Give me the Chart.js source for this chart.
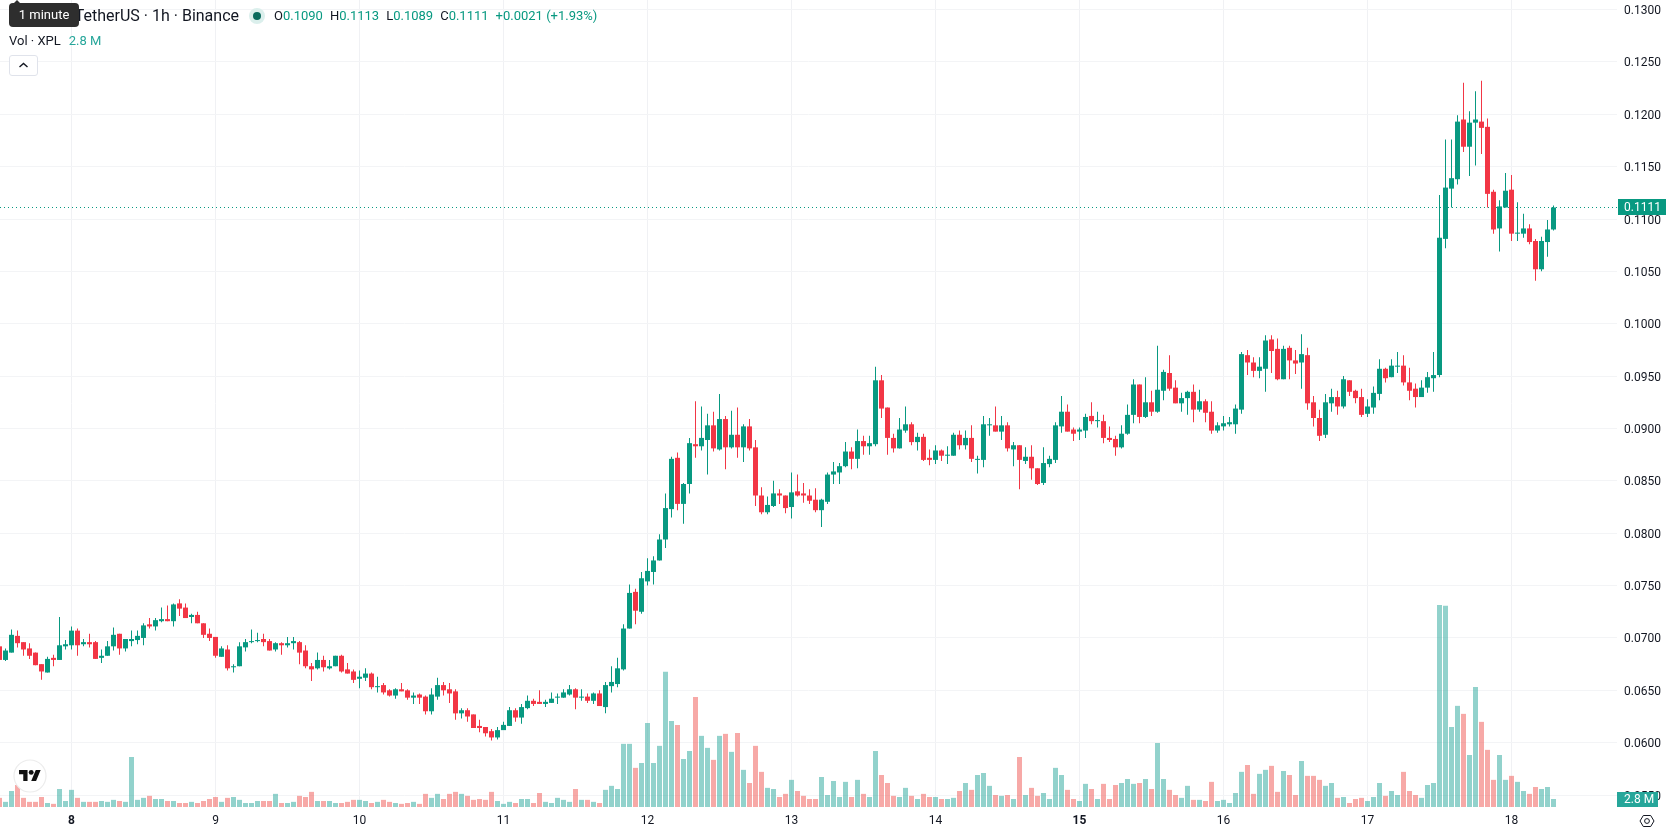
<!DOCTYPE html>
<html>
<head>
<meta charset="utf-8">
<title>TetherUS 1h</title>
<script src="https://cdn.jsdelivr.net/npm/chart.js@4/dist/chart.umd.min.js"></script>
<style>
    html, body { margin: 0; padding: 0; background: #fff; overflow: hidden; }
    body { width: 1678px; height: 835px; position: relative; font-family: Roboto, sans-serif; color: #131722; }
    canvas { position: absolute; left: 0; top: 0; }
    .abs { position: absolute; white-space: nowrap; }
    #title { right: calc(1678px - 239px); top: 6px; font-size: 16px; line-height: 20px; }
    #tip { left: 9px; top: 3px; width: 70px; height: 24px; line-height: 24px; text-align: center; border-radius: 4px;
        background: #2e2e2e; color: #fff; font-size: 13px; }
    #tipArrow { left: 13px; top: 0; width: 0; height: 0; border-left: 4px solid transparent; border-right: 4px solid transparent;
        border-bottom: 4px solid #2e2e2e; }
    #halo { left: 249px; top: 8px; width: 16px; height: 16px; border-radius: 50%; background: #dbefec; }
    #dot { left: 253px; top: 12px; width: 8px; height: 8px; border-radius: 50%; background: #0a6b5d; }
    #ohlc { left: 274px; top: 7px; font-size: 13px; line-height: 18px; color: #089981; }
    #ohlc b { font-weight: 400; color: #131722; margin-left: 7px; }
    #ohlc b:first-child { margin-left: 0; }
    #ohlc i { font-style: normal; margin-left: 7px; }
    #vol { left: 9px; top: 32px; font-size: 13px; line-height: 18px; }
    #vol span { color: #26a69a; margin-left: 8px; }
    #toggle { left: 9px; top: 55px; width: 27px; height: 19px; border: 1px solid #e0e3eb; border-radius: 3px; background: #fff; }
    #logo { left: 13px; top: 759px; }
    #gear { left: 1639px; top: 814px; }
</style>
</head>
<body>
<canvas id="chart" width="1678" height="835"></canvas>
<div class="abs" id="title">TetherUS · 1h · Binance</div>
<div class="abs" id="tipArrow"></div>
<div class="abs" id="tip">1 minute</div>
<div class="abs" id="halo"></div>
<div class="abs" id="dot"></div>
<div class="abs" id="ohlc"><b>O</b>0.1090<b>H</b>0.1113<b>L</b>0.1089<b>C</b>0.1111<i>+0.0021 (+1.93%)</i></div>
<div class="abs" id="vol">Vol · XPL<span>2.8 M</span></div>
<div class="abs" id="toggle">
    <svg width="27" height="19" viewBox="0 0 27 19"><path d="M9.5 11 L13.5 7.5 L17.5 11" fill="none" stroke="#131722" stroke-width="1.4"/></svg>
</div>
<svg class="abs" id="logo" width="34" height="34" viewBox="0 0 34 34">
    <circle cx="17" cy="17" r="16" fill="#fff" stroke="#ececec" stroke-width="1.2"/>
    <g transform="translate(6 8.5) scale(0.61)" fill="#111">
        <path d="M14 22H7V11H0V4h14v18zM28 22h-8l7.5-18h8L28 22z"/>
        <circle cx="20" cy="8" r="4"/>
    </g>
</svg>
<svg class="abs" id="gear" width="16" height="14" viewBox="0 0 16 14">
    <path d="M4.3 1.5 H11.7 L15 7 L11.7 12.5 H4.3 L1 7 Z" fill="none" stroke="#131722" stroke-width="1"/>
    <circle cx="8" cy="7" r="2.4" fill="none" stroke="#131722" stroke-width="1"/>
</svg>
<script>
// hourly candles, the first one sits 12 hours before the "8" day mark
var firstHour = -12;

var opens = [
    0.0692,0.0679,0.0686,0.0702,0.0696,0.0690,0.0686,0.0675,0.0667,0.0681,
    0.0679,0.0692,0.0693,0.0707,0.0694,0.0696,0.0696,0.0681,0.0683,0.0692,
    0.0704,0.0690,0.0697,0.0698,0.0700,0.0713,0.0711,0.0716,0.0718,0.0716,
    0.0733,0.0729,0.0720,0.0722,0.0714,0.0704,0.0701,0.0682,0.0689,0.0672,
    0.0673,0.0691,0.0696,0.0697,0.0699,0.0697,0.0689,0.0695,0.0693,0.0695,
    0.0696,0.0688,0.0673,0.0671,0.0679,0.0671,0.0673,0.0683,0.0670,0.0668,
    0.0661,0.0662,0.0666,0.0653,0.0655,0.0650,0.0645,0.0651,0.0650,0.0643,
    0.0646,0.0644,0.0630,0.0644,0.0655,0.0651,0.0649,0.0628,0.0631,0.0627,
    0.0616,0.0615,0.0611,0.0605,0.0612,0.0616,0.0631,0.0624,0.0633,0.0640,
    0.0639,0.0637,0.0638,0.0643,0.0643,0.0646,0.0651,0.0643,0.0644,0.0640,
    0.0647,0.0634,0.0654,0.0656,0.0670,0.0709,0.0744,0.0725,0.0754,0.0763,
    0.0774,0.0794,0.0823,0.0872,0.0828,0.0847,0.0885,0.0883,0.0889,0.0903,
    0.0880,0.0909,0.0882,0.0894,0.0882,0.0902,0.0882,0.0836,0.0820,0.0826,
    0.0838,0.0836,0.0825,0.0840,0.0838,0.0836,0.0832,0.0822,0.0830,0.0856,
    0.0858,0.0864,0.0878,0.0871,0.0888,0.0883,0.0885,0.0946,0.0920,0.0891,
    0.0881,0.0898,0.0904,0.0887,0.0892,0.0872,0.0870,0.0879,0.0874,0.0874,
    0.0894,0.0884,0.0891,0.0870,0.0870,0.0903,0.0903,0.0897,0.0903,0.0880,
    0.0884,0.0869,0.0873,0.0862,0.0848,0.0866,0.0870,0.0902,0.0916,0.0899,
    0.0897,0.0898,0.0912,0.0907,0.0907,0.0891,0.0890,0.0882,0.0895,0.0913,
    0.0942,0.0911,0.0925,0.0916,0.0936,0.0953,0.0939,0.0924,0.0929,0.0935,
    0.0918,0.0926,0.0916,0.0898,0.0902,0.0904,0.0904,0.0918,0.0970,0.0963,
    0.0955,0.0957,0.0985,0.0976,0.0947,0.0977,0.0965,0.0963,0.0970,0.0925,
    0.0910,0.0894,0.0924,0.0930,0.0921,0.0946,0.0936,0.0930,0.0914,0.0920,
    0.0933,0.0957,0.0949,0.0959,0.0960,0.0944,0.0938,0.0930,0.0939,0.0948,
    0.0951,0.1081,0.1129,0.1138,0.1195,0.1169,0.1192,0.1193,0.1188,0.1126,
    0.1091,0.1111,0.1128,0.1086,0.1086,0.1091,0.1079,0.1052,0.1078,0.1090
];

var highs = [
    0.0694,0.0690,0.0708,0.0707,0.0696,0.0695,0.0686,0.0675,0.0682,0.0684,
    0.0720,0.0698,0.0711,0.0709,0.0699,0.0704,0.0697,0.0689,0.0697,0.0710,
    0.0704,0.0699,0.0707,0.0707,0.0714,0.0719,0.0719,0.0729,0.0731,0.0733,
    0.0737,0.0733,0.0723,0.0725,0.0714,0.0709,0.0701,0.0692,0.0693,0.0675,
    0.0696,0.0699,0.0708,0.0705,0.0704,0.0699,0.0696,0.0696,0.0701,0.0701,
    0.0697,0.0693,0.0676,0.0686,0.0683,0.0679,0.0683,0.0684,0.0676,0.0670,
    0.0669,0.0671,0.0667,0.0663,0.0657,0.0651,0.0652,0.0657,0.0651,0.0648,
    0.0647,0.0645,0.0652,0.0662,0.0658,0.0657,0.0651,0.0633,0.0633,0.0627,
    0.0622,0.0615,0.0613,0.0615,0.0620,0.0634,0.0633,0.0637,0.0645,0.0642,
    0.0650,0.0641,0.0648,0.0647,0.0651,0.0655,0.0652,0.0651,0.0647,0.0648,
    0.0650,0.0658,0.0673,0.0681,0.0713,0.0751,0.0747,0.0763,0.0776,0.0778,
    0.0799,0.0838,0.0873,0.0877,0.0848,0.0891,0.0926,0.0921,0.0914,0.0916,
    0.0933,0.0912,0.0917,0.0920,0.0904,0.0909,0.0889,0.0844,0.0835,0.0850,
    0.0842,0.0836,0.0858,0.0856,0.0848,0.0842,0.0843,0.0833,0.0858,0.0868,
    0.0867,0.0887,0.0882,0.0899,0.0893,0.0893,0.0959,0.0951,0.0920,0.0895,
    0.0910,0.0921,0.0906,0.0896,0.0895,0.0880,0.0884,0.0880,0.0883,0.0896,
    0.0898,0.0898,0.0903,0.0874,0.0912,0.0910,0.0921,0.0912,0.0906,0.0887,
    0.0884,0.0882,0.0884,0.0862,0.0882,0.0874,0.0906,0.0931,0.0923,0.0901,
    0.0901,0.0914,0.0925,0.0916,0.0913,0.0902,0.0893,0.0903,0.0923,0.0947,
    0.0942,0.0949,0.0936,0.0979,0.0956,0.0970,0.0946,0.0934,0.0936,0.0942,
    0.0937,0.0928,0.0926,0.0906,0.0912,0.0911,0.0923,0.0973,0.0975,0.0968,
    0.0968,0.0989,0.0989,0.0986,0.0979,0.0979,0.0975,0.0990,0.0977,0.0931,
    0.0918,0.0933,0.0938,0.0936,0.0950,0.0946,0.0937,0.0938,0.0928,0.0940,
    0.0966,0.0958,0.0966,0.0973,0.0970,0.0958,0.0943,0.0946,0.0954,0.0973,
    0.1123,0.1176,0.1176,0.1199,0.1230,0.1203,0.1222,0.1232,0.1196,0.1128,
    0.1118,0.1144,0.1142,0.1116,0.1105,0.1095,0.1081,0.1083,0.1099,0.1113
];

var lows = [
    0.0679,0.0678,0.0686,0.0691,0.0683,0.0680,0.0674,0.0660,0.0667,0.0673,
    0.0679,0.0689,0.0689,0.0683,0.0692,0.0691,0.0680,0.0676,0.0683,0.0688,
    0.0684,0.0687,0.0692,0.0694,0.0693,0.0709,0.0707,0.0715,0.0716,0.0711,
    0.0721,0.0719,0.0714,0.0714,0.0700,0.0697,0.0681,0.0682,0.0669,0.0667,
    0.0673,0.0687,0.0695,0.0696,0.0692,0.0688,0.0687,0.0684,0.0691,0.0689,
    0.0675,0.0671,0.0659,0.0670,0.0668,0.0670,0.0673,0.0667,0.0666,0.0657,
    0.0652,0.0659,0.0651,0.0648,0.0646,0.0644,0.0642,0.0649,0.0641,0.0637,
    0.0637,0.0627,0.0627,0.0641,0.0645,0.0638,0.0622,0.0623,0.0620,0.0614,
    0.0610,0.0606,0.0602,0.0603,0.0612,0.0616,0.0620,0.0618,0.0632,0.0635,
    0.0637,0.0634,0.0638,0.0637,0.0643,0.0645,0.0632,0.0640,0.0638,0.0637,
    0.0635,0.0628,0.0648,0.0653,0.0669,0.0709,0.0713,0.0723,0.0750,0.0751,
    0.0774,0.0786,0.0815,0.0822,0.0809,0.0838,0.0872,0.0879,0.0856,0.0878,
    0.0879,0.0861,0.0881,0.0872,0.0868,0.0879,0.0826,0.0818,0.0818,0.0825,
    0.0828,0.0819,0.0814,0.0835,0.0829,0.0828,0.0820,0.0806,0.0828,0.0847,
    0.0847,0.0863,0.0861,0.0862,0.0875,0.0875,0.0883,0.0910,0.0875,0.0877,
    0.0881,0.0896,0.0884,0.0879,0.0869,0.0865,0.0866,0.0869,0.0866,0.0874,
    0.0880,0.0880,0.0868,0.0857,0.0863,0.0893,0.0897,0.0889,0.0878,0.0864,
    0.0842,0.0866,0.0851,0.0846,0.0846,0.0863,0.0867,0.0896,0.0897,0.0888,
    0.0889,0.0891,0.0904,0.0901,0.0886,0.0887,0.0874,0.0881,0.0894,0.0905,
    0.0905,0.0910,0.0912,0.0915,0.0927,0.0936,0.0924,0.0916,0.0913,0.0906,
    0.0916,0.0906,0.0895,0.0896,0.0898,0.0902,0.0895,0.0914,0.0951,0.0949,
    0.0948,0.0935,0.0953,0.0946,0.0947,0.0947,0.0952,0.0938,0.0918,0.0902,
    0.0888,0.0891,0.0916,0.0913,0.0919,0.0931,0.0924,0.0911,0.0911,0.0914,
    0.0927,0.0944,0.0949,0.0953,0.0941,0.0927,0.0920,0.0930,0.0934,0.0935,
    0.0949,0.1072,0.1111,0.1133,0.1164,0.1141,0.1151,0.1162,0.1111,0.1086,
    0.1069,0.1111,0.1079,0.1079,0.1082,0.1076,0.1041,0.1050,0.1064,0.1089
];

var closes = [
    0.0679,0.0688,0.0703,0.0695,0.0689,0.0683,0.0674,0.0668,0.0680,0.0679,
    0.0693,0.0694,0.0707,0.0693,0.0696,0.0694,0.0680,0.0683,0.0692,0.0703,
    0.0690,0.0699,0.0699,0.0702,0.0712,0.0711,0.0717,0.0718,0.0716,0.0732,
    0.0728,0.0719,0.0722,0.0714,0.0703,0.0700,0.0683,0.0690,0.0671,0.0673,
    0.0692,0.0696,0.0697,0.0698,0.0696,0.0688,0.0695,0.0693,0.0695,0.0697,
    0.0686,0.0673,0.0670,0.0679,0.0672,0.0673,0.0683,0.0668,0.0666,0.0660,
    0.0663,0.0666,0.0653,0.0654,0.0648,0.0645,0.0651,0.0649,0.0643,0.0645,
    0.0643,0.0630,0.0646,0.0655,0.0650,0.0647,0.0628,0.0631,0.0625,0.0614,
    0.0614,0.0609,0.0605,0.0612,0.0617,0.0631,0.0624,0.0634,0.0640,0.0637,
    0.0637,0.0639,0.0642,0.0644,0.0648,0.0651,0.0643,0.0644,0.0640,0.0647,
    0.0635,0.0655,0.0658,0.0671,0.0709,0.0743,0.0726,0.0757,0.0764,0.0774,
    0.0794,0.0824,0.0871,0.0828,0.0847,0.0886,0.0883,0.0891,0.0903,0.0881,
    0.0909,0.0882,0.0894,0.0882,0.0902,0.0881,0.0836,0.0820,0.0827,0.0838,
    0.0836,0.0824,0.0839,0.0836,0.0836,0.0831,0.0822,0.0832,0.0856,0.0859,
    0.0864,0.0878,0.0871,0.0888,0.0883,0.0886,0.0946,0.0919,0.0891,0.0881,
    0.0899,0.0904,0.0887,0.0892,0.0870,0.0870,0.0879,0.0874,0.0875,0.0894,
    0.0884,0.0891,0.0871,0.0871,0.0904,0.0904,0.0897,0.0903,0.0881,0.0884,
    0.0870,0.0873,0.0862,0.0847,0.0867,0.0871,0.0903,0.0916,0.0897,0.0895,
    0.0899,0.0911,0.0907,0.0908,0.0891,0.0889,0.0882,0.0895,0.0913,0.0942,
    0.0911,0.0925,0.0916,0.0937,0.0954,0.0938,0.0924,0.0929,0.0935,0.0918,
    0.0926,0.0915,0.0898,0.0903,0.0905,0.0906,0.0919,0.0971,0.0963,0.0955,
    0.0959,0.0984,0.0974,0.0947,0.0976,0.0965,0.0962,0.0971,0.0924,0.0910,
    0.0893,0.0925,0.0930,0.0921,0.0947,0.0935,0.0929,0.0913,0.0921,0.0934,
    0.0957,0.0948,0.0960,0.0960,0.0944,0.0936,0.0930,0.0939,0.0949,0.0951,
    0.1082,0.1130,0.1139,0.1193,0.1169,0.1192,0.1195,0.1187,0.1124,0.1090,
    0.1112,0.1127,0.1086,0.1087,0.1091,0.1078,0.1052,0.1079,0.1090,0.1111
];

// volume in millions of XPL
var volumes = [
    3.2,1.8,5.6,7.7,3.2,1.8,1.8,3.5,1.4,1.1,
    6.3,2.1,6.0,3.2,1.8,1.8,1.8,2.1,1.8,2.5,
    2.1,1.8,17.5,2.5,3.2,3.9,2.8,2.8,2.1,2.1,
    1.4,1.4,1.8,1.4,2.1,2.8,3.5,1.8,3.2,3.5,
    2.5,1.4,1.4,2.1,2.1,2.1,4.6,1.4,1.4,1.8,
    3.9,3.5,5.3,2.1,2.1,2.1,1.4,1.4,1.8,2.5,
    2.5,2.1,1.4,1.8,2.5,1.8,1.4,1.1,1.4,1.8,
    1.1,4.6,3.2,4.6,2.8,4.6,5.3,4.6,3.9,2.5,
    2.8,2.5,5.3,2.1,1.1,1.8,1.4,2.8,2.8,1.4,
    4.9,1.8,1.4,3.2,2.5,1.8,6.3,2.5,2.5,1.8,
    1.4,6.0,7.4,6.3,22.1,22.1,13.7,15.4,29.4,15.4,
    21.4,47.3,30.1,28.7,16.8,19.6,38.5,24.9,20.7,16.5,
    24.9,25.6,19.3,25.9,13.0,8.4,21.4,12.3,6.7,6.3,
    3.5,4.6,9.5,5.6,3.9,2.8,2.8,10.5,4.2,9.1,
    3.5,8.8,3.5,9.5,4.6,3.5,19.6,11.2,8.4,3.9,
    3.5,6.7,3.9,2.8,4.6,3.5,3.5,2.8,2.8,3.2,
    5.6,8.4,6.0,11.2,11.9,7.4,4.2,3.9,4.2,2.8,
    17.5,4.2,6.7,3.9,4.9,2.8,13.7,11.2,6.0,2.8,
    2.1,8.1,6.3,2.8,8.1,2.8,7.7,8.4,9.8,8.1,
    8.4,9.8,6.3,22.4,9.8,6.0,4.2,3.2,7.4,2.5,
    2.5,2.1,8.8,2.1,2.5,1.4,4.9,12.3,14.7,4.6,
    11.6,13.0,14.4,5.3,12.6,11.2,4.2,16.1,10.9,10.9,
    9.5,7.4,8.4,3.2,3.5,1.4,2.8,3.2,2.1,3.5,
    8.4,3.9,5.6,4.2,12.3,5.6,4.2,3.2,7.7,8.4,
    70.7,70.4,28.0,35.4,32.6,18.2,42.0,29.8,20.0,9.5,
    18.2,9.5,10.9,8.8,5.6,4.6,7.0,6.3,7.0,2.8
];

var dayLabels = ["8", "9", "10", "11", "12", "13", "14", "15", "16", "17", "18"];
var boldDays = ["8", "15"];

var UP = '#089981';
var DOWN = '#F23645';
var VOL_UP = 'rgba(38, 166, 154, 0.5)';
var VOL_DOWN = 'rgba(239, 83, 80, 0.5)';
var FONT = 'Roboto, sans-serif';

var lastClose = closes[closes.length - 1];
var lastVolume = volumes[volumes.length - 1];
var hourMin = -11.9167;
var hourMax = 257.5833;

var hourOf = function (i) { return firstHour + i; };
var colorOf = function (i, up, down) { return closes[i] >= opens[i] ? up : down; };

var bodies = opens.map(function (o, i) { return { x: hourOf(i), y: [o, closes[i]] }; });
var wicks = lows.map(function (l, i) { return { x: hourOf(i), y: [l, highs[i]] }; });
var volumeBars = volumes.map(function (v, i) { return { x: hourOf(i), y: v }; });

// last price and last volume tags on the right axis
var tagsPlugin = {
    id: 'tags',
    afterDraw: function (chart) {
        var ctx = chart.ctx;
        var left = chart.chartArea.right;
        var priceY = chart.scales.y.getPixelForValue(lastClose);
        ctx.save();
        ctx.fillStyle = UP;
        ctx.fillRect(left + 1, Math.round(priceY) - 8, 48, 16);
        ctx.fillStyle = '#26a69a';
        ctx.fillRect(left, chart.chartArea.bottom - 15, 41, 15);
        ctx.fillStyle = '#fff';
        ctx.font = '12px ' + FONT;
        ctx.textBaseline = 'middle';
        ctx.textAlign = 'left';
        ctx.fillText(lastClose.toFixed(4), left + 7, Math.round(priceY) + 1);
        ctx.fillText(lastVolume.toFixed(1) + ' M', left + 7, chart.chartArea.bottom - 7);
        ctx.restore();
    }
};

new Chart(document.getElementById('chart').getContext('2d'), {
    type: 'bar',
    data: {
        datasets: [{
            label: 'body',
            data: bodies,
            yAxisID: 'y',
            barThickness: 5,
            inflateAmount: 0,
            grouped: false,
            backgroundColor: opens.map(function (o, i) { return colorOf(i, UP, DOWN); })
        }, {
            label: 'wick',
            data: wicks,
            yAxisID: 'y',
            barThickness: 1,
            inflateAmount: 0,
            grouped: false,
            backgroundColor: opens.map(function (o, i) { return colorOf(i, UP, DOWN); })
        }, {
            type: 'line',
            label: 'last',
            data: [{ x: hourMin, y: lastClose }, { x: hourMax, y: lastClose }],
            yAxisID: 'y',
            borderColor: UP,
            borderWidth: 1.2,
            borderDash: [1, 3],
            pointRadius: 0
        }, {
            label: 'volume',
            data: volumeBars,
            yAxisID: 'yVol',
            barThickness: 5,
            inflateAmount: 0,
            grouped: false,
            backgroundColor: opens.map(function (o, i) { return colorOf(i, VOL_UP, VOL_DOWN); })
        }]
    },
    options: {
        responsive: false,
        animation: false,
        layout: { padding: 0 },
        plugins: { legend: { display: false }, tooltip: { enabled: false } },
        scales: {
            x: {
                type: 'linear',
                offset: false,
                min: hourMin,
                max: hourMax,
                afterFit: function (scale) {
                    // keep the plot flush with the canvas edges
                    scale.height = 28;
                    scale.paddingLeft = 0;
                    scale.paddingRight = 0;
                },
                afterBuildTicks: function (scale) {
                    scale.ticks = dayLabels.map(function (d, i) { return { value: i * 24 }; });
                },
                grid: { offset: false, color: '#f0f1f4', drawTicks: false },
                border: { display: false },
                ticks: {
                    autoSkip: false,
                    maxRotation: 0,
                    padding: 7,
                    color: '#131722',
                    font: function (c) {
                        var label = c.tick ? dayLabels[c.tick.value / 24] : '';
                        return { family: FONT, size: 12, weight: boldDays.indexOf(label) >= 0 ? 'bold' : 'normal' };
                    },
                    callback: function (value) { return dayLabels[value / 24]; }
                }
            },
            y: {
                position: 'right',
                min: 0.05386,
                max: 0.13091,
                afterFit: function (scale) {
                    scale.width = 61;
                    scale.paddingTop = 0;
                    scale.paddingBottom = 0;
                },
                grid: { color: '#f3f4f6', drawTicks: false },
                border: { display: false },
                ticks: {
                    stepSize: 0.005,
                    includeBounds: false,
                    padding: 7,
                    labelOffset: 1.5,
                    color: '#131722',
                    font: { family: FONT, size: 12 },
                    callback: function (value) { return value.toFixed(4); }
                }
            },
            yVol: {
                display: false,
                min: 0,
                max: 282.45
            }
        }
    },
    plugins: [tagsPlugin]
});
</script>
</body>
</html>
